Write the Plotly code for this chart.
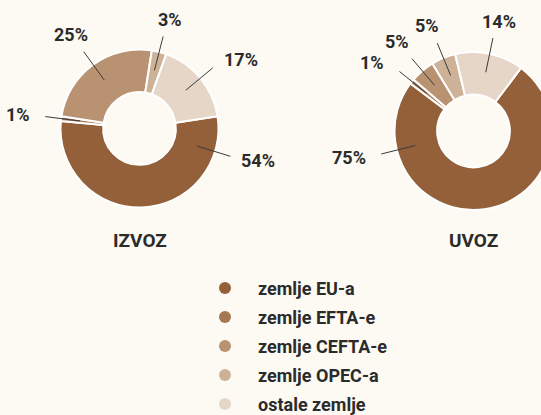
import math
import plotly.graph_objects as go

# ---- data ----
categories = ["zemlje EU-a", "zemlje EFTA-e", "zemlje CEFTA-e", "zemlje OPEC-a", "ostale zemlje"]
izvoz_values = [54, 1, 25, 3, 17]
uvoz_values = [75, 1, 5, 5, 14]
chart_titles = ["IZVOZ", "UVOZ"]
slice_colors = ["#93603a", "#a67852", "#b99272", "#cdb298", "#e6d6c7"]

# ---- style / layout ----
W, H = 560, 415
BG = "#fdfaf3"
TXT = "#2b2b2b"
FONT = "Roboto"

charts = [
    dict(values=izvoz_values, title=chart_titles[0], cx=139.5, cy=128.5, r=79,
         rotation=81, big_label_angle=-17, title_y=240),
    dict(values=uvoz_values, title=chart_titles[1], cx=473.5, cy=131, r=79,
         rotation=37, big_label_angle=194, title_y=240),
]

fig = go.Figure()
shapes = []
annotations = []

for ch in charts:
    cx, cy, r = ch["cx"], ch["cy"], ch["r"]
    fig.add_trace(go.Pie(
        values=ch["values"], labels=categories, sort=False, direction="clockwise",
        rotation=ch["rotation"], hole=0.46,
        marker=dict(colors=slice_colors, line=dict(color="#ffffff", width=2)),
        textinfo="none", hoverinfo="label+percent", showlegend=False,
        domain=dict(x=[(cx - r) / W, (cx + r) / W],
                    y=[1 - (cy + r) / H, 1 - (cy - r) / H]),
    ))
    total = sum(ch["values"])
    start = 90 - ch["rotation"]
    cum = 0
    big = max(ch["values"])
    for v in ch["values"]:
        mid = start - 360 * (cum + v / 2) / total
        cum += v
        ang = ch["big_label_angle"] if v == big else mid
        t = math.radians(ang)
        c, s = math.cos(t), math.sin(t)
        xe, ye = cx + 95 * c, cy - 95 * s
        shapes.append(dict(type="line", xref="x", yref="y",
                           x0=cx + 60 * c, y0=cy - 60 * s, x1=xe, y1=ye,
                           line=dict(color="#3a3a3a", width=1)))
        lab_font = dict(family=FONT, size=18, color=TXT, weight=700)
        if abs(c) > 0.7:
            gap = 9 if c > 0 else 13
            annotations.append(dict(x=xe + (gap if c > 0 else -gap), y=ye - s * 14,
                                    xref="x", yref="y", text=f"{v}%", showarrow=False,
                                    xanchor="left" if c > 0 else "right", yanchor="middle",
                                    font=lab_font))
        else:
            rt = 109 + 13 * abs(c)
            annotations.append(dict(x=cx + rt * c + 3 * c / max(abs(c), 1e-6) * (abs(c) < 0.4),
                                    y=cy - rt * s, xref="x", yref="y",
                                    text=f"{v}%", showarrow=False,
                                    xanchor="center", yanchor="middle", font=lab_font))
    annotations.append(dict(x=cx, y=ch["title_y"], xref="x", yref="y", text=ch["title"],
                            showarrow=False, xanchor="center", yanchor="middle",
                            font=dict(family=FONT, size=19, color=TXT, weight=700)))

# legend drawn manually
leg_x, leg_y0, leg_dy = 225, 288, 29
leg_ys = [leg_y0 + i * leg_dy for i in range(len(categories))]
fig.add_trace(go.Scatter(
    x=[leg_x] * len(categories), y=leg_ys, mode="markers",
    marker=dict(size=12, color=slice_colors, line=dict(width=0)),
    hoverinfo="skip", showlegend=False,
))
for cat, yy in zip(categories, leg_ys):
    annotations.append(dict(x=256, y=yy, xref="x", yref="y", text=cat, showarrow=False,
                            xanchor="left", yanchor="middle",
                            font=dict(family=FONT, size=18, color=TXT, weight=700)))

fig.update_layout(
    width=W, height=H, margin=dict(l=0, r=0, t=0, b=0),
    paper_bgcolor=BG, plot_bgcolor="rgba(0,0,0,0)",
    xaxis=dict(range=[0, W], visible=False, fixedrange=True, domain=[0, 1]),
    yaxis=dict(range=[H, 0], visible=False, fixedrange=True, domain=[0, 1]),
    shapes=shapes, annotations=annotations, showlegend=False,
)

fig.write_html("out.html", config={"displayModeBar": False},
               post_script="document.documentElement.style.overflow='hidden';"
                           "document.body.style.margin='0';"
                           "document.body.style.overflow='hidden';"
                           "document.body.style.background='" + BG + "';")
